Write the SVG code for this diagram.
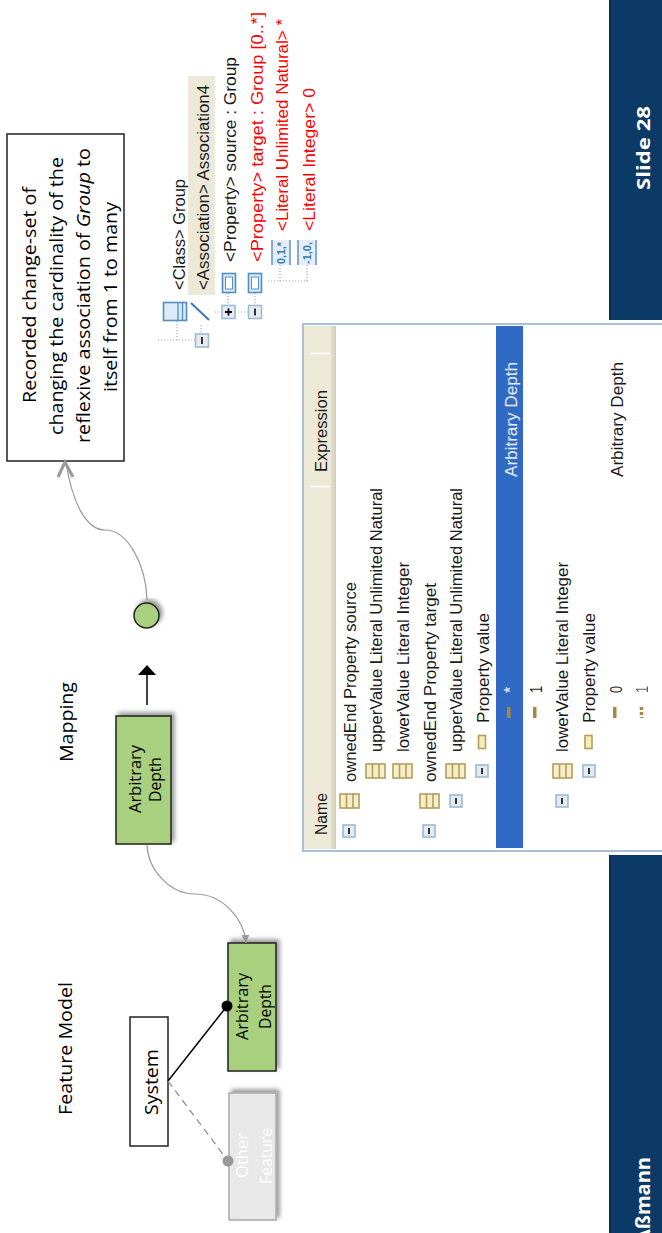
<svg xmlns="http://www.w3.org/2000/svg" width="662" height="1233" viewBox="0 0 662 1233">
<style>
text{font-family:"Open Sans","Noto Sans","Liberation Sans",sans-serif;fill:#000}
.t{font-family:"Liberation Sans",Arial,sans-serif;font-size:16px;fill:#1a1a1a}
.r{fill:#f00}
.w{fill:#fff}
.n{fill:#a9d07f;stroke:#222;stroke-width:1.5}
.btn{fill:#e6ebf0;stroke:#9dbbd6;stroke-width:1.6}
.minus{stroke:#333;stroke-width:2}
.tab{fill:#f6eec8;stroke:#b59e5a;stroke-width:1.6}
.prop{fill:#f5edb8;stroke:#b59e5a;stroke-width:1.6}
.lit{fill:#a58a3c}
.blue{fill:#dcebf8;stroke:#4f8fc4;stroke-width:1.6}
.dot{fill:none;stroke:#aaa;stroke-width:1.2;stroke-dasharray:1.2 1.8}
</style>
<defs>
<filter id="sh" x="-20%" y="-20%" width="150%" height="150%"><feDropShadow dx="3" dy="-3" stdDeviation="2" flood-color="#000" flood-opacity="0.4"/></filter>
<marker id="ga" markerUnits="userSpaceOnUse" markerWidth="10" markerHeight="10" refX="8" refY="4" orient="auto"><path d="M0 0L8 4L0 8z" fill="#999"/></marker>
<linearGradient id="hd" x1="0" x2="1" y1="0" y2="0"><stop offset="0.8" stop-color="#ece9d8"/><stop offset="1" stop-color="#cfcbb5"/></linearGradient>
</defs>

<g id="sidebar-top"><rect x="610" y="0" width="52" height="320" fill="#0b3a66"/><rect x="609" y="0" width="1.5" height="320" fill="#10243a"/>
<text transform="translate(650 190) rotate(-90)" font-size="18" font-weight="700" class="w" textLength="84" lengthAdjust="spacingAndGlyphs">Slide 28</text></g>
<g id="sidebar-bottom"><rect x="610" y="855" width="52" height="378" fill="#0b3a66"/><rect x="609" y="855" width="1.5" height="378" fill="#10243a"/>
<text transform="translate(650 1157) rotate(-90)" font-size="20" font-weight="700" class="w" text-anchor="end">Aßmann</text></g>

<g id="changeset-note"><rect x="7" y="134" width="117" height="327" fill="#fff" stroke="#222" stroke-width="1.5"/>
<g font-size="19">
<text transform="translate(36 403) rotate(-90)" textLength="216" lengthAdjust="spacingAndGlyphs">Recorded change-set of</text>
<text transform="translate(63 435) rotate(-90)" textLength="278" lengthAdjust="spacingAndGlyphs">changing the cardinality of the</text>
<text transform="translate(90 443) rotate(-90)" textLength="295" lengthAdjust="spacingAndGlyphs">reflexive association of <tspan font-style="italic">Group</tspan> to</text>
<text transform="translate(117 392) rotate(-90)" textLength="190" lengthAdjust="spacingAndGlyphs">itself from 1 to many</text>
</g></g>

<g id="feature-model-label"><text transform="translate(72 1115) rotate(-90)" font-size="19" textLength="133" lengthAdjust="spacingAndGlyphs">Feature Model</text></g>
<g id="mapping-label"><text transform="translate(73 762) rotate(-90)" font-size="19" textLength="80" lengthAdjust="spacingAndGlyphs">Mapping</text></g>

<g id="system"><rect x="130" y="1017" width="38" height="129" fill="#fff" stroke="#222" stroke-width="1.5"/>
<text transform="translate(158 1115) rotate(-90)" font-size="19" textLength="66" lengthAdjust="spacingAndGlyphs">System</text></g>

<g id="arbitrary-depth-feature"><rect class="n" x="228" y="943" width="48" height="128" filter="url(#sh)"/>
<text transform="translate(248 1040) rotate(-90)" font-size="16" textLength="67" lengthAdjust="spacingAndGlyphs">Arbitrary</text>
<text transform="translate(271 1029) rotate(-90)" font-size="16" textLength="45" lengthAdjust="spacingAndGlyphs">Depth</text></g>

<g id="other-feature"><rect x="229" y="1093" width="47" height="127" fill="#e8e8e8" stroke="#aaa" stroke-width="1.5" filter="url(#sh)"/>
<text transform="translate(248 1178) rotate(-90)" font-size="16" class="w" textLength="45" lengthAdjust="spacingAndGlyphs">Other</text>
<text transform="translate(272 1184) rotate(-90)" font-size="16" class="w" textLength="56" lengthAdjust="spacingAndGlyphs">Feature</text></g>

<g id="arbitrary-depth-mapping"><rect class="n" x="116" y="716" width="55" height="128" filter="url(#sh)"/>
<text transform="translate(141 813) rotate(-90)" font-size="16" textLength="68" lengthAdjust="spacingAndGlyphs">Arbitrary</text>
<text transform="translate(161 802) rotate(-90)" font-size="16" textLength="45" lengthAdjust="spacingAndGlyphs">Depth</text></g>

<g id="changeset-dot"><circle cx="146.500" cy="615.500" r="12.500" class="n" filter="url(#sh)"/></g>

<g id="connectors" fill="none">
<path d="M168 1081L227 1006" stroke="#000" stroke-width="1.500"/>
<circle cx="227" cy="1006" r="5.500" fill="#000"/>
<path d="M168 1081L228 1161" stroke="#888" stroke-width="1.200" stroke-dasharray="7 5"/>
<circle cx="228" cy="1161" r="5.500" fill="#999"/>
<path d="M147 845C148 870 170 894 195 894C222 894 244 918 246 943" stroke="#999" stroke-width="1.200" marker-end="url(#ga)"/>
<path d="M147 705V674" stroke="#000" stroke-width="1.500"/>
<path d="M147 665L156 675H138z" fill="#000"/>
<path d="M147 600C146 565 128 530 105 530C85 530 72 500 66 463" stroke="#999" stroke-width="1.200"/>
<path d="M58 477L65 462L73 477" stroke="#999" stroke-width="3"/>
</g>

<g id="model-tree">
<rect x="188" y="76" width="27" height="219" fill="#ece9d8"/>
<path class="dot" d="M158 340H195M177 321V340M228 293V305M255 293V305M215 312H222M235 312H248M201 325V334M280 265V281M307 265V281M268 281H308"/>
<rect class="blue" x="163.500" y="302.500" width="23" height="18"/><path d="M178 303V320M182.500 303V320" stroke="#4f8fc4" stroke-width="1.300"/>
<path d="M191 303L209 320" stroke="#3a78b0" stroke-width="2"/>
<rect class="btn" x="195.500" y="334" width="13" height="13"/><path class="minus" d="M202 337V344"/>
<rect class="blue" x="222.500" y="273.500" width="13" height="19"/><rect x="225.500" y="277" width="7" height="12" fill="#fff" stroke="#4f8fc4"/>
<rect class="blue" x="248.500" y="273.500" width="13" height="19"/><rect x="251.500" y="277" width="7" height="12" fill="#fff" stroke="#4f8fc4"/>
<rect class="btn" x="222" y="305.500" width="13" height="13"/><path d="M228.500 308.500V315.500M225 312H232" stroke="#000" stroke-width="1.800"/>
<rect class="btn" x="248.500" y="305.500" width="13" height="13"/><path class="minus" d="M255 308.500V315.500"/>
<rect x="272" y="240" width="18" height="25" fill="#e4eff9"/><path d="M272 240V265M290 240V265" stroke="#5d94c6" stroke-width="1.500"/>
<text transform="translate(285 264) rotate(-90)" font-size="11" font-weight="700" style="fill:#3a78b0;font-family:'Liberation Sans',sans-serif" textLength="22" lengthAdjust="spacingAndGlyphs">0,1,*</text>
<rect x="298" y="240" width="18" height="25" fill="#e4eff9"/><path d="M298 240V265M316 240V265" stroke="#5d94c6" stroke-width="1.500"/>
<text transform="translate(311 264) rotate(-90)" font-size="11" font-weight="700" style="fill:#3a78b0;font-family:'Liberation Sans',sans-serif" textLength="22" lengthAdjust="spacingAndGlyphs">-1,0,</text>
<text class="t" transform="translate(185 290) rotate(-90)" textLength="111" lengthAdjust="spacingAndGlyphs">&lt;Class&gt; Group</text>
<text class="t" transform="translate(209 290) rotate(-90)" textLength="205" lengthAdjust="spacingAndGlyphs">&lt;Association&gt; Association4</text>
<text class="t" transform="translate(236 262) rotate(-90)" textLength="205" lengthAdjust="spacingAndGlyphs">&lt;Property&gt; source : Group</text>
<text class="t r" transform="translate(263 262) rotate(-90)" textLength="250" lengthAdjust="spacingAndGlyphs" style="fill:#f00">&lt;Property&gt; target : Group [0..*]</text>
<text class="t r" transform="translate(288 231) rotate(-90)" textLength="212" lengthAdjust="spacingAndGlyphs" style="fill:#f00">&lt;Literal Unlimited Natural&gt; *</text>
<text class="t r" transform="translate(315 231) rotate(-90)" textLength="143" lengthAdjust="spacingAndGlyphs" style="fill:#f00">&lt;Literal Integer&gt; 0</text>
</g>

<g id="expression-table">
<rect x="303" y="324" width="360" height="527" fill="#fff" stroke="#a9c0d8" stroke-width="2"/>
<rect x="304" y="326" width="32" height="523" fill="url(#hd)"/>
<path d="M310 353.500H330M310 486.500H330" stroke="#fff" stroke-width="1.500"/>
<rect x="496" y="326" width="27" height="522" fill="#316ac5"/>
<text class="t" transform="translate(327 472) rotate(-90)" textLength="82" lengthAdjust="spacingAndGlyphs">Expression</text>
<text class="t" transform="translate(327 835) rotate(-90)" textLength="42" lengthAdjust="spacingAndGlyphs">Name</text>
<text class="t" transform="translate(356 782) rotate(-90)" textLength="200" lengthAdjust="spacingAndGlyphs">ownedEnd Property source</text>
<text class="t" transform="translate(382 752) rotate(-90)" textLength="264" lengthAdjust="spacingAndGlyphs">upperValue Literal Unlimited Natural</text>
<text class="t" transform="translate(409 752) rotate(-90)" textLength="190" lengthAdjust="spacingAndGlyphs">lowerValue Literal Integer</text>
<text class="t" transform="translate(436 782) rotate(-90)" textLength="199" lengthAdjust="spacingAndGlyphs">ownedEnd Property target</text>
<text class="t" transform="translate(462 752) rotate(-90)" textLength="264" lengthAdjust="spacingAndGlyphs">upperValue Literal Unlimited Natural</text>
<text class="t" transform="translate(489 723) rotate(-90)" textLength="110" lengthAdjust="spacingAndGlyphs">Property value</text>
<text class="t" transform="translate(516 693) rotate(-90)" style="fill:#fff">*</text>
<text class="t" transform="translate(517 477) rotate(-90)" style="fill:#e8eefa" textLength="115" lengthAdjust="spacingAndGlyphs">Arbitrary Depth</text>
<text class="t" transform="translate(542 693) rotate(-90)" textLength="7" lengthAdjust="spacingAndGlyphs">1</text>
<text class="t" transform="translate(568 752) rotate(-90)" textLength="190" lengthAdjust="spacingAndGlyphs">lowerValue Literal Integer</text>
<text class="t" transform="translate(595 723) rotate(-90)" textLength="110" lengthAdjust="spacingAndGlyphs">Property value</text>
<text class="t" transform="translate(622 693) rotate(-90)" textLength="7" lengthAdjust="spacingAndGlyphs">0</text>
<text class="t" transform="translate(623 477) rotate(-90)" textLength="115" lengthAdjust="spacingAndGlyphs">Arbitrary Depth</text>
<text class="t" transform="translate(648 693) rotate(-90)" textLength="7" lengthAdjust="spacingAndGlyphs" opacity="0.7">1</text>
<g id="table-icons">
<g><rect class="btn" x="343" y="825" width="12" height="12"/><path class="minus" d="M349 828V834"/></g>
<g><rect class="btn" x="423" y="825" width="12" height="12"/><path class="minus" d="M429 828V834"/></g>
<g><rect class="btn" x="450" y="795" width="12" height="12"/><path class="minus" d="M456 798V804"/></g>
<g><rect class="btn" x="476" y="765" width="12" height="12"/><path class="minus" d="M482 768V774"/></g>
<g><rect class="btn" x="556" y="795" width="12" height="12"/><path class="minus" d="M562 798V804"/></g>
<g><rect class="btn" x="583" y="765" width="12" height="12"/><path class="minus" d="M589 768V774"/></g>
<g class="tab"><rect x="340" y="794" width="19" height="14"/><path d="M346.500 794V808M353 794V808"/></g>
<g class="tab"><rect x="366" y="764" width="19" height="14"/><path d="M372.500 764V778M379 764V778"/></g>
<g class="tab"><rect x="393" y="764" width="19" height="14"/><path d="M399.500 764V778M406 764V778"/></g>
<g class="tab"><rect x="420" y="794" width="19" height="14"/><path d="M426.500 794V808M433 794V808"/></g>
<g class="tab"><rect x="446" y="764" width="19" height="14"/><path d="M452.500 764V778M459 764V778"/></g>
<g class="tab"><rect x="553" y="764" width="19" height="14"/><path d="M559.500 764V778M566 764V778"/></g>
<rect class="prop" x="478.500" y="735.500" width="7" height="13"/>
<rect class="prop" x="585" y="735.500" width="7" height="13"/>
<rect class="lit" x="507" y="707" width="3.500" height="11"/>
<rect class="lit" x="533" y="707" width="3.500" height="11"/>
<rect class="lit" x="613" y="707" width="3.500" height="11"/>
<path d="M641.500 707V718" stroke="#a58a3c" stroke-width="3.500" stroke-dasharray="3 2"/>
</g>
</g>
</svg>
